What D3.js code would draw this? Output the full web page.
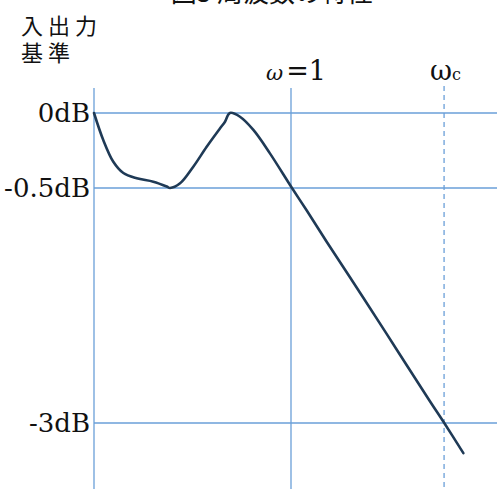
<!DOCTYPE html>
<html>
<head>
<meta charset="utf-8">
<script src="https://cdn.jsdelivr.net/npm/d3@7"></script>
<style>
  html, body { margin: 0; padding: 0; background: #fff; }
  svg { display: block; }
</style>
</head>
<body>
<svg id="chart" width="497" height="489"></svg>
<script>
// curve (omega relative to 1, gain in dB)
const omega = [0, 0.047, 0.098, 0.149, 0.217, 0.301, 0.369, 0.386, 0.437, 0.504, 0.572, 0.640, 0.665, 0.690, 0.741, 0.809, 0.893, 1.005, 1.080, 1.181, 1.367, 1.537, 1.706, 1.778, 1.875];
const gainDb = [0, -0.18, -0.325, -0.40, -0.435, -0.458, -0.49, -0.5, -0.469, -0.358, -0.225, -0.102, -0.058, 0, -0.025, -0.113, -0.269, -0.5, -0.74, -1.072, -1.667, -2.22, -2.771, -3, -3.32];

const gridDb = [0, -0.5, -3];
const gridLabels = ["0dB", "-0.5dB", "-3dB"];
const omegaMarks = [1, 1.777];

const title = "図3 周波数の特性";
const yTitle = ["入出力", "基準"];

const svg = d3.select("#chart");
const W = 497, H = 489;
const gridColor = "#6a9fd8";
const lineColor = "#1f3a56";
const serif = "'DejaVu Serif', serif";
const cjk = "'Noto Sans CJK JP', sans-serif";

// x: omega, linear; y: dB, piecewise (the picture is not to scale)
const x = d3.scaleLinear().domain([0, 1]).range([94, 291]);
const y = d3.scaleLinear().domain(gridDb).range([113, 188, 423]);
const yTop = 88;

// horizontal reference lines
svg.selectAll(".hgrid")
  .data(gridDb)
  .enter().append("line")
  .attr("class", "hgrid")
  .attr("x1", x(0)).attr("x2", W)
  .attr("y1", d => y(d)).attr("y2", d => y(d))
  .attr("stroke", gridColor)
  .attr("stroke-width", 1.3);

// left axis line
svg.append("line")
  .attr("x1", x(0)).attr("x2", x(0))
  .attr("y1", yTop).attr("y2", H)
  .attr("stroke", gridColor)
  .attr("stroke-width", 1.3);

// omega = 1 (solid) and omega c (dashed)
svg.selectAll(".vmark")
  .data(omegaMarks)
  .enter().append("line")
  .attr("class", "vmark")
  .attr("x1", d => x(d)).attr("x2", d => x(d))
  .attr("y1", (d, i) => i ? yTop - 2 : yTop).attr("y2", H)
  .attr("stroke", gridColor)
  .attr("stroke-width", 1.3)
  .attr("stroke-dasharray", (d, i) => i ? "5,4" : null);

// dB labels
svg.selectAll(".dblabel")
  .data(gridDb)
  .enter().append("text")
  .attr("class", "dblabel")
  .attr("x", x(0) - 4)
  .attr("y", d => y(d) + 9)
  .attr("text-anchor", "end")
  .attr("font-family", serif)
  .attr("font-size", 26)
  .attr("fill", "#111")
  .text((d, i) => gridLabels[i]);

// response curve
const line = d3.line()
  .x((d, i) => x(omega[i]))
  .y(d => y(d))
  .curve(d3.curveCatmullRom.alpha(0.5));

svg.append("path")
  .datum(gainDb)
  .attr("fill", "none")
  .attr("stroke", lineColor)
  .attr("stroke-width", 2.6)
  .attr("stroke-linecap", "round")
  .attr("d", line);

// omega labels
const w1 = svg.append("text")
  .attr("x", x(1) - 25)
  .attr("y", 80)
  .attr("font-family", serif)
  .attr("fill", "#111");
w1.append("tspan").attr("font-size", 21).attr("font-style", "italic").text("ω");
w1.append("tspan").attr("font-size", 27).attr("dx", 3).text("=1");

const wc = svg.append("text")
  .attr("x", x(omegaMarks[1]) - 14)
  .attr("y", 80)
  .attr("font-family", serif)
  .attr("fill", "#111");
wc.append("tspan").attr("font-size", 27).text("ω");
wc.append("tspan").attr("font-size", 16).text("c");

// titles
svg.append("text")
  .attr("x", 272)
  .attr("y", 2)
  .attr("text-anchor", "middle")
  .attr("font-family", cjk)
  .attr("font-size", 26)
  .attr("fill", "#111")
  .text(title);

svg.selectAll(".ytitle")
  .data(yTitle)
  .enter().append("text")
  .attr("class", "ytitle")
  .attr("x", 21)
  .attr("y", (d, i) => 34 + i * 27)
  .attr("font-family", cjk)
  .attr("font-size", 22)
  .attr("letter-spacing", 5)
  .attr("fill", "#111")
  .text(d => d);
</script>
</body>
</html>
